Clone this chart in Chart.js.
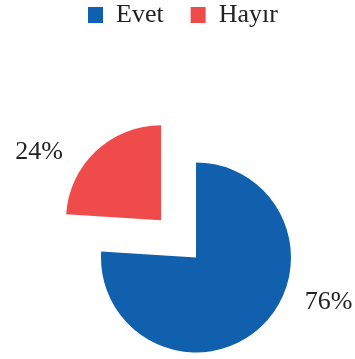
<!DOCTYPE html>
<html>
<head>
<meta charset="utf-8">
<script src="https://cdn.jsdelivr.net/npm/chart.js@4/dist/chart.umd.min.js"></script>
<style>
  html, body { margin: 0; padding: 0; background: #fff; }
  #wrap { width: 355px; height: 359px; }
</style>
</head>
<body>
<div id="wrap"><canvas id="pie"></canvas></div>
<script>
// --- Dades ---
const labels = ['Evet', 'Hayır'];
const values = [76, 24];
const colors = ['#1160ad', '#f04b4b'];

const FONT = "'Liberation Serif', 'Times New Roman', serif";

// --- Etiquetes de percentatge fora del pastís ---
const outerLabels = {
    id: 'outerLabels',
    afterDatasetsDraw(chart, args, opts) {
        const {ctx} = chart;
        const meta = chart.getDatasetMeta(0);
        const ds = chart.data.datasets[0];
        const total = ds.data.reduce((a, b) => a + b, 0);
        ctx.save();
        ctx.font = opts.size + 'px ' + FONT;
        ctx.fillStyle = opts.color;
        ctx.textAlign = 'center';
        ctx.textBaseline = 'middle';
        meta.data.forEach((arc, i) => {
            const p = arc.getProps(['x', 'y', 'startAngle', 'endAngle', 'outerRadius'], true);
            const mid = (p.startAngle + p.endAngle) / 2;
            const off = (ds.offset[i] || 0) / 4; // v4 dibuixa offset/4
            const cx = p.x + Math.cos(mid) * off;
            const cy = p.y + Math.sin(mid) * off;
            const a = mid + opts.shift[i] * Math.PI / 180;
            const r = p.outerRadius + opts.gap;
            const txt = Math.round(ds.data[i] / total * 100) + '%';
            ctx.fillText(txt, cx + Math.cos(a) * r, cy + Math.sin(a) * r);
        });
        ctx.restore();
    }
};

new Chart(document.getElementById('pie'), {
    type: 'pie',
    data: {
        labels: labels,
        datasets: [{
            data: values,
            backgroundColor: colors,
            borderWidth: 0,
            offset: [0, 204],
            hoverOffset: 0,
            radius: 95
        }]
    },
    options: {
        responsive: true,
        maintainAspectRatio: false,
        animation: false,
        cutout: '0%',
        layout: { padding: { left: 61, right: 24, top: -25, bottom: 0 } },
        plugins: {
            legend: {
                position: 'top',
                align: 'start',
                labels: {
                    color: '#222',
                    boxWidth: 15,
                    boxHeight: 16,
                    padding: 27,
                    font: { family: FONT, size: 26 }
                }
            },
            // espai buit entre la llegenda i el pastís
            subtitle: {
                display: true,
                text: '',
                position: 'top',
                weight: 500,
                font: { size: 10 },
                padding: { top: 0, bottom: 106 }
            },
            tooltip: { enabled: false },
            outerLabels: { size: 26, color: '#222', gap: 45, shift: [-28, -17.5] }
        }
    },
    plugins: [outerLabels]
});
</script>
</body>
</html>
